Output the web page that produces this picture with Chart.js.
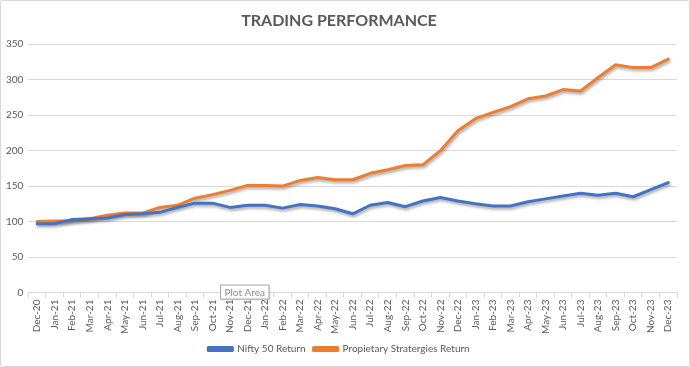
<!DOCTYPE html>
<html>
<head>
<meta charset="utf-8">
<script src="https://cdn.jsdelivr.net/npm/chart.js@4"></script>
<style>
html,body{margin:0;padding:0;background:#fff;}
#wrap{position:absolute;left:0;top:0;width:688px;height:365px;border:1px solid #d9d9d9;border-radius:2px;}
canvas{display:block;}
</style>
</head>
<body>
<div id="wrap"><canvas id="c" width="688" height="365"></canvas></div>
<script>
const categories = ["Dec-20","Jan-21","Feb-21","Mar-21","Apr-21","May-21","Jun-21","Jul-21","Aug-21","Sep-21","Oct-21","Nov-21","Dec-21","Jan-22","Feb-22","Mar-22","Apr-22","May-22","Jun-22","Jul-22","Aug-22","Sep-22","Oct-22","Nov-22","Dec-22","Jan-23","Feb-23","Mar-23","Apr-23","May-23","Jun-23","Jul-23","Aug-23","Sep-23","Oct-23","Nov-23","Dec-23"];
const niftyReturn = [97,97,103,104,105,110,111,113,120,126,126,120,123,123,119,124,122,118,111,123,127,121,129,134,129,125,122,122,128,132,136,140,137,140,135,145,155];
const propReturn = [100,101,101,104,109,112,112,120,123,133,138,144,151,151,150,158,162,159,159,168,173,179,180,200,228,245,254,262,273,277,286,284,303,321,317,317,329];
const seriesNames = ["Nifty 50 Return","Propietary Stratergies Return"];
const yTicks = [0,50,100,150,200,250,300,350];

const shadowPlugin = {
  id:'shadow',
  beforeDatasetDraw(chart){ const ctx=chart.ctx; ctx.save(); ctx.shadowColor='rgba(0,0,0,0.35)'; ctx.shadowBlur=3; ctx.shadowOffsetX=1; ctx.shadowOffsetY=2; },
  afterDatasetDraw(chart){ chart.ctx.restore(); }
};
const tipPlugin = {
  id:'tip',
  afterDraw(chart){
    const ctx=chart.ctx; const x=chart.scales.x;
    const cx = x.getPixelForValue(11);
    ctx.save();
    ctx.font='10px Lato';
    const t='Plot Area'; const w=ctx.measureText(t).width+8;
    const bx=Math.round(cx-10)+0.5, by=chart.chartArea.bottom-8+0.5;
    ctx.shadowColor='rgba(0,0,0,0.2)'; ctx.shadowBlur=2; ctx.shadowOffsetX=1; ctx.shadowOffsetY=1;
    ctx.fillStyle='#fff'; ctx.fillRect(bx,by,w,14);
    ctx.shadowColor='transparent';
    ctx.strokeStyle='#a6a6a6'; ctx.lineWidth=1; ctx.strokeRect(bx,by,w,14);
    ctx.fillStyle='#8c8c8c'; ctx.textBaseline='middle'; ctx.fillText(t,bx+4,by+7.5);
    ctx.restore();
  }
};

new Chart(document.getElementById('c'), {
  type:'line',
  data:{
    labels:categories,
    datasets:[
      {label:seriesNames[0],data:niftyReturn,borderColor:'#4472C4',backgroundColor:'#4472C4',borderWidth:3,pointRadius:0,tension:0,borderJoinStyle:'round',borderCapStyle:'round'},
      {label:seriesNames[1],data:propReturn,borderColor:'#ED7D31',backgroundColor:'#ED7D31',borderWidth:3,pointRadius:0,tension:0,borderJoinStyle:'round',borderCapStyle:'round'}
    ]
  },
  options:{
    responsive:false,animation:false,
    layout:{padding:{left:0,right:12,top:4,bottom:2}},
    plugins:{
      title:{display:true,text:'TRADING PERFORMANCE',color:'#595959',font:{family:'Lato',size:16,weight:'bold'},padding:{top:6,bottom:14}},
      legend:{position:'bottom',labels:{color:'#595959',font:{family:'Lato',size:10},boxWidth:24,boxHeight:3,padding:8}},
      tooltip:{enabled:false}
    },
    scales:{
      x:{offset:true,
        grid:{display:true,drawOnChartArea:false,offset:true,color:'#d9d9d9',tickLength:5},
        border:{color:'#d9d9d9'},
        ticks:{color:'#595959',font:{family:'Lato',size:10},maxRotation:90,minRotation:90,autoSkip:false,padding:2}
      },
      y:{min:0,max:350,
        afterBuildTicks(s){ s.ticks = yTicks.map(v=>({value:v})); },
        grid:{color:'#d9d9d9',drawTicks:false},
        border:{display:false},
        ticks:{color:'#595959',font:{family:'Lato',size:10},padding:5}
      }
    }
  },
  plugins:[shadowPlugin,tipPlugin]
});
</script>
</body>
</html>
